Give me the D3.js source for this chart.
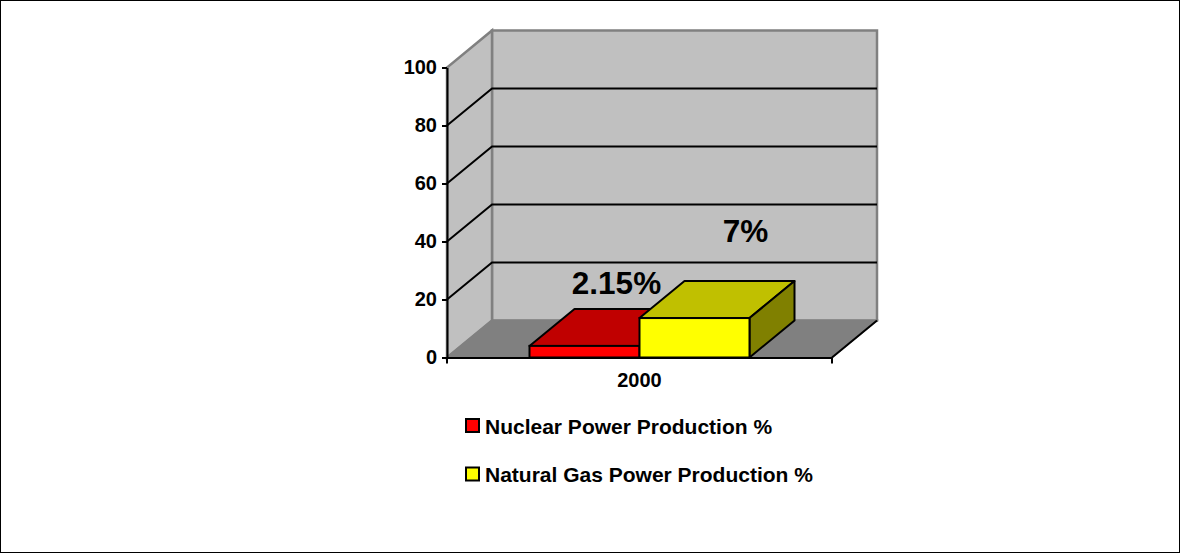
<!DOCTYPE html>
<html>
<head>
<meta charset="utf-8">
<script src="https://cdn.jsdelivr.net/npm/d3@7"></script>
<style>
  body { margin: 0; background: #fff; }
  svg { display: block; font-family: "Liberation Sans", Arial, sans-serif; font-weight: bold; }
</style>
</head>
<body>
<svg class="chart"></svg>
<script>
// data
var categories = ['2000'];
var series = ['Nuclear Power Production %', 'Natural Gas Power Production %'];
var values = [4.0, 13.6];
var valueLabels = ['2.15%', '7%'];
var yTicks = [0, 20, 40, 60, 80, 100];

var W = 1180, H = 554;
var depthX = 45, depthY = 37;

var svg = d3.select('.chart').attr('width', W).attr('height', H);

svg.append('rect')
  .attr('x', 0.5).attr('y', 0.5)
  .attr('width', W - 1).attr('height', H - 2)
  .attr('fill', '#fff').attr('stroke', '#000');

var y = d3.scaleLinear().domain([0, 100]).range([357.5, 67.5]);
var xCat = d3.scaleBand().domain(categories).range([447, 832]).paddingOuter(0.375).paddingInner(0);
var xSer = d3.scaleBand().domain(series).range([0, xCat.bandwidth()]);
var color = d3.scaleOrdinal().domain(series).range(['#ff0000', '#ffff00']);
var topColor = d3.scaleOrdinal().domain(series).range(['#c00000', '#c0c000']);
var sideColor = d3.scaleOrdinal().domain(series).range(['#800000', '#808000']);

var x0 = xCat.range()[0], x1 = xCat.range()[1];
var line = d3.line();

// walls and floor
var walls = svg.append('g').attr('class', 'walls');
walls.append('path')
  .attr('d', line([[x0 + depthX, y(0) - depthY], [x0 + depthX, y(100) - depthY], [x1 + depthX, y(100) - depthY], [x1 + depthX, y(0) - depthY]]) + 'Z')
  .attr('fill', '#c0c0c0').attr('stroke', '#808080').attr('stroke-width', 2.5);
walls.append('path')
  .attr('d', line([[x0, y(0)], [x0, y(100)], [x0 + depthX, y(100) - depthY], [x0 + depthX, y(0) - depthY]]) + 'Z')
  .attr('fill', '#c0c0c0').attr('stroke', '#808080').attr('stroke-width', 2.5);
walls.append('path')
  .attr('d', line([[x0, y(0)], [x1, y(0)], [x1 + depthX, y(0) - depthY], [x0 + depthX, y(0) - depthY]]) + 'Z')
  .attr('fill', '#808080').attr('stroke', '#808080').attr('stroke-width', 1.5);

// gridlines
walls.selectAll('.grid')
  .data(yTicks.filter(d => d > 0 && d < 100))
  .enter().append('path')
  .attr('class', 'grid')
  .attr('d', d => line([[x0, y(d)], [x0 + depthX, y(d) - depthY], [x1 + depthX, y(d) - depthY]]))
  .attr('fill', 'none').attr('stroke', '#000').attr('stroke-width', 2);

// bars
var bars = svg.append('g').attr('class', 'bars');
series.forEach((s, i) => {
  var bx = xCat(categories[0]) + xSer(s);
  var bw = xSer.bandwidth();
  var yt = y(values[i]), yb = y(0);
  var g = bars.append('g');
  g.append('path')
    .attr('d', line([[bx, yt], [bx + depthX, yt - depthY], [bx + bw + depthX, yt - depthY], [bx + bw, yt]]) + 'Z')
    .attr('fill', topColor(s)).attr('stroke', '#000').attr('stroke-width', 2).attr('stroke-linejoin', 'round');
  g.append('path')
    .attr('d', line([[bx + bw, yt], [bx + bw + depthX, yt - depthY], [bx + bw + depthX, yb - depthY], [bx + bw, yb]]) + 'Z')
    .attr('fill', sideColor(s)).attr('stroke', '#000').attr('stroke-width', 2).attr('stroke-linejoin', 'round');
  g.append('rect')
    .attr('x', bx).attr('y', yt)
    .attr('width', bw).attr('height', yb - yt)
    .attr('fill', color(s)).attr('stroke', '#000').attr('stroke-width', 2);
});

// value labels
var labelLift = [52, 76];
var labelShift = [32, 51];
svg.selectAll('.vlabel')
  .data(series)
  .enter().append('text')
  .attr('class', 'vlabel')
  .attr('x', (s, i) => xCat(categories[0]) + xSer(s) + xSer.bandwidth() / 2 + labelShift[i])
  .attr('y', (s, i) => y(values[i]) - labelLift[i])
  .attr('text-anchor', 'middle')
  .style('font-size', '31.5px')
  .text((s, i) => valueLabels[i]);

// y axis
var yAxis = d3.axisLeft(y).tickValues(yTicks).tickSize(5).tickSizeOuter(0).tickPadding(5);
var ya = svg.append('g')
  .attr('class', 'y axis')
  .attr('transform', 'translate(' + x0 + ',0)')
  .call(yAxis);
ya.selectAll('path, line').attr('stroke', '#000').attr('stroke-width', 2);
ya.selectAll('text').style('font-size', '20px').attr('fill', '#000').style('font-family', 'inherit');

// x axis
var xAxis = d3.axisBottom(xCat).tickSize(0).tickSizeOuter(0).tickPadding(15);
var xa = svg.append('g')
  .attr('class', 'x axis')
  .attr('transform', 'translate(0,' + y(0) + ')')
  .call(xAxis);
xa.select('.domain').attr('stroke', '#000').attr('stroke-width', 2);
xa.selectAll('text').style('font-size', '20px').attr('fill', '#000').style('font-family', 'inherit');
xa.selectAll('.bound')
  .data(xCat.range())
  .enter().append('line')
  .attr('class', 'bound')
  .attr('x1', d => d).attr('x2', d => d)
  .attr('y1', 0).attr('y2', 6)
  .attr('stroke', '#000').attr('stroke-width', 2);
svg.append('path')
  .attr('d', line([[x1, y(0)], [x1 + depthX, y(0) - depthY]]))
  .attr('stroke', '#000').attr('stroke-width', 2);

// legend
var legend = svg.append('g').attr('class', 'legend')
  .attr('transform', 'translate(466,419)');
var item = legend.selectAll('.item')
  .data(series)
  .enter().append('g')
  .attr('class', 'item')
  .attr('transform', (d, i) => 'translate(0,' + i * 48.5 + ')');
item.append('rect')
  .attr('width', 13).attr('height', 13)
  .attr('fill', d => color(d)).attr('stroke', '#000').attr('stroke-width', 2);
item.append('text')
  .attr('x', 19).attr('y', 14.5)
  .style('font-size', '21px')
  .text(d => d);
</script>
</body>
</html>
